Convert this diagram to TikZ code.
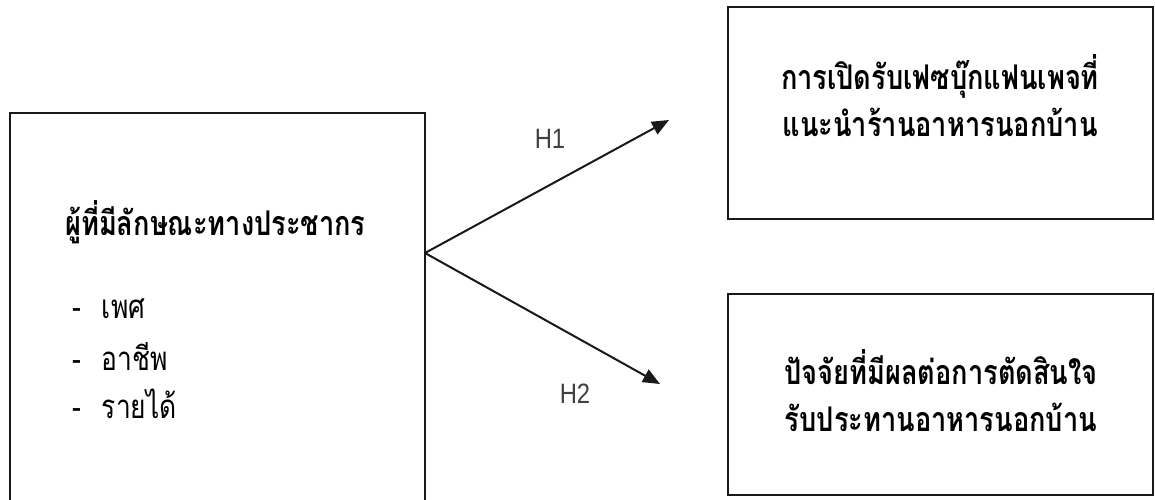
\documentclass[tikz,border=0pt]{standalone}
\usepackage{fontspec}
\usetikzlibrary{arrows.meta}
\newfontfamily\thaifont[Script=Thai, FakeStretch=0.8]{Loma}
\newfontfamily\latinfont[FakeStretch=0.85]{Liberation Sans}
\tikzset{
  x=1pt, y=-1pt,
  frame/.style={draw=black!90, line width=2.6pt},
  link/.style={draw=black!90, line width=2pt, -{Triangle[length=17pt,width=14pt]}},
  hlabel/.style={font=\latinfont\fontsize{28}{32}\selectfont, text=black!75},
  heading/.style={font=\thaifont\bfseries\fontsize{34}{47}\selectfont, align=center},
  item/.style={font=\thaifont\fontsize{33}{40}\selectfont, anchor=west, inner sep=0pt}
}
\begin{document}
\begin{tikzpicture}
\useasboundingbox (0,0) rectangle (1155,499);
\begin{scope}
\clip (0,0) rectangle (1155,499);
% source box, running past the lower edge
\draw[frame] (10,113) rectangle (425,530);
\end{scope}
\draw[frame] (728,7) rectangle (1153,219);
\draw[frame] (728,294) rectangle (1153,495);

\node[heading, anchor=west, inner sep=0pt] (src) at (65,222) {ผู้ที่มีลักษณะทางประชากร};
\node[item] (i1) at (72,309) {-\hspace{21pt}เพศ};
\node[item] (i2) at (72,357) {-\hspace{21pt}อาชีพ};
\node[item] (i3) at (72,404) {-\hspace{21pt}รายได้};

\node[heading] (t1) at (940,96) {การเปิดรับเฟซบุ๊กแฟนเพจที่\\แนะนำร้านอาหารนอกบ้าน};
\node[heading] (t2) at (941,391) {ปัจจัยที่มีผลต่อการตัดสินใจ\\รับประทานอาหารนอกบ้าน};

\coordinate (o) at (425,253);
\coordinate (e1) at (669,120);
\coordinate (e2) at (660,384);
\draw[link] (o) -- (e1);
\draw[link] (o) -- (e2);
\node[hlabel] (h1) at (550,139) {H1};
\node[hlabel] (h2) at (575,394) {H2};
\end{tikzpicture}
\end{document}
